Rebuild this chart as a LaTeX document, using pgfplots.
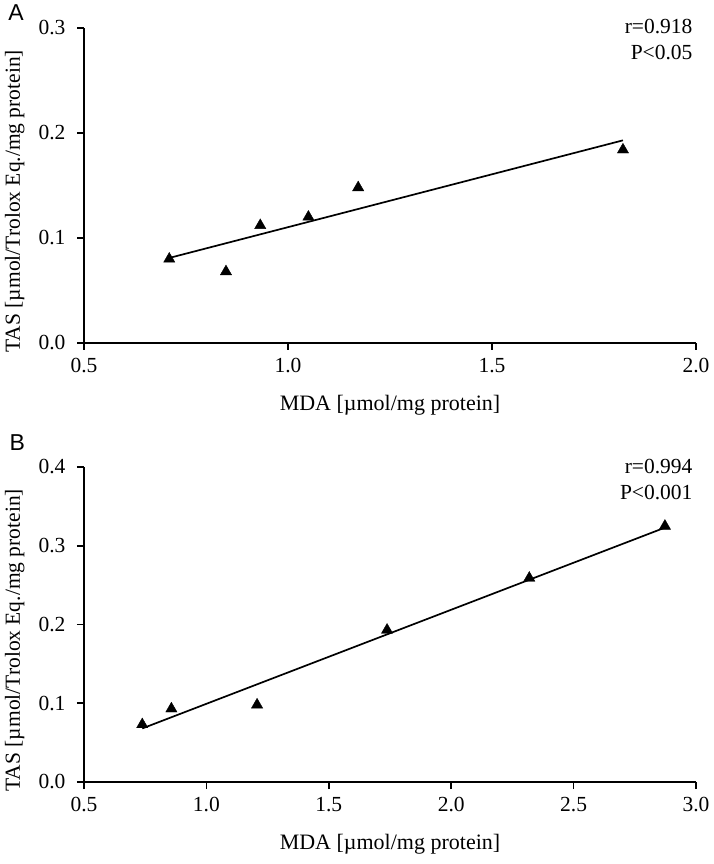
\documentclass[border=0pt]{standalone}
\usepackage{pgfplots}
\pgfplotsset{compat=1.18}
\usepackage{fontspec}
\setmainfont{Liberation Serif}
\newfontfamily\arial{Liberation Sans}
\begin{document}
\begin{tikzpicture}[x=1pt,y=1pt]
\path[use as bounding box] (0,0) rectangle (713,864);
\pgfplotsset{
  myax/.style={
    scale only axis, width=612pt, height=315pt,
    axis lines=left, clip=false,
    axis line style={-, line width=1.6pt, black},
    tick align=outside, major tick length=7pt,
    tick style={line width=1.6pt, black},
    ticklabel style={font=\fontsize{21.5}{24}\selectfont},
    /pgf/number format/assume math mode=true,
    /pgf/number format/fixed, /pgf/number format/fixed zerofill,
    /pgf/number format/precision=1,
    xticklabel style={yshift=-5pt},
    yticklabel style={xshift=-8pt},
    every axis x label/.style={at={(axis description cs:0.5,-0.213)}, anchor=base, font=\fontsize{22}{24}\selectfont},
    every axis y label/.style={at={(axis description cs:-0.113,0.45)}, rotate=90, anchor=center, font=\fontsize{21.5}{24}\selectfont},
    xlabel={MDA [µmol/mg protein]},
    ylabel={TAS [µmol/Trolox Eq./mg protein]},
  },
  pts/.style={only marks, mark=triangle*, mark size=6.5pt, mark options={fill=black, draw=black}},
  fit/.style={no marks, line width=1.7pt, black},
}
% Panel A
\begin{axis}[myax, at={(84pt,521pt)}, anchor=south west,
  xmin=0.5, xmax=2.0, ymin=0, ymax=0.3,
  xtick={0.5,1.0,1.5,2.0}, ytick={0,0.1,0.2,0.3}]
\addplot[pts] coordinates {(0.709,0.080) (0.848,0.068) (0.932,0.112) (1.050,0.120) (1.172,0.148) (1.821,0.184)};
\addplot[fit] coordinates {(0.709,0.081) (1.821,0.193)};
\node[anchor=east, align=right, font=\fontsize{21.5}{26}\selectfont] at (axis description cs:1.0,0.962) {r=0.918\\P<0.05};
\node[font=\arial\fontsize{23}{26}\selectfont] at (axis description cs:-0.111,1.048) {A};
\end{axis}
% Panel B
\begin{axis}[myax, at={(84pt,82pt)}, anchor=south west,
  xmin=0.5, xmax=3.0, ymin=0, ymax=0.4,
  xtick={0.5,1.0,1.5,2.0,2.5,3.0}, ytick={0,0.1,0.2,0.3,0.4}]
\addplot[pts] coordinates {(0.738,0.073) (0.857,0.093) (1.207,0.098) (1.738,0.193) (2.319,0.259) (2.873,0.325)};
\addplot[fit] coordinates {(0.738,0.068) (2.873,0.323)};
\node[anchor=east, align=right, font=\fontsize{21.5}{26}\selectfont] at (axis description cs:1.0,0.960) {r=0.994\\P<0.001};
\node[font=\arial\fontsize{23}{26}\selectfont] at (axis description cs:-0.109,1.079) {B};
\end{axis}
\end{tikzpicture}
\end{document}
